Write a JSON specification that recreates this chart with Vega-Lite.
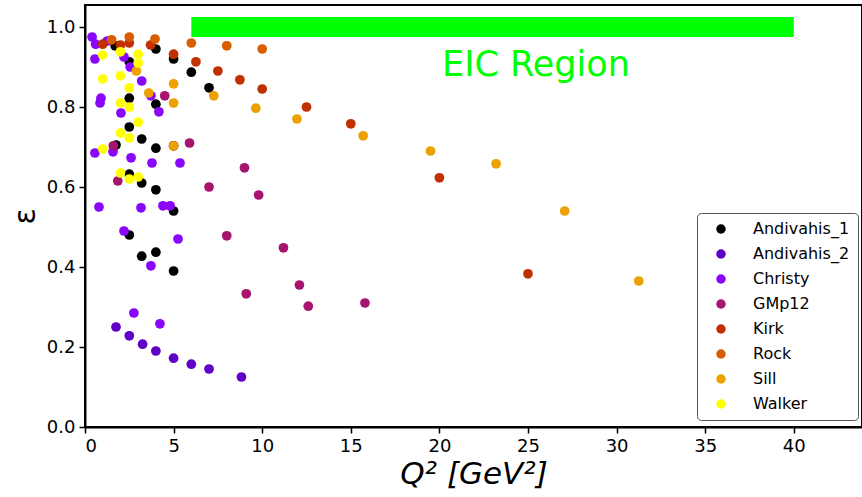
{
  "$schema": "https://vega.github.io/schema/vega-lite/v6.json",
  "width": 777,
  "height": 422,
  "autosize": {"type": "none"},
  "padding": {"left": 85, "top": 5, "right": 0, "bottom": 70},
  "background": "white",
  "config": {
    "font": "DejaVu Sans",
    "view": {"stroke": "black", "strokeWidth": 2},
    "axis": {"domainColor": "black", "domainWidth": 2, "tickColor": "black", "tickWidth": 1.5, "tickSize": 6, "labelFontSize": 18, "labelColor": "black", "grid": false, "titleColor": "black", "labelFont": "DejaVu Sans"}
  },
  "datasets": {
    "pts": [
      {"series": "Andivahis_1", "q2": 1.7, "eps": 0.953},
      {"series": "Andivahis_1", "q2": 2.5, "eps": 0.913},
      {"series": "Andivahis_1", "q2": 4.0, "eps": 0.945},
      {"series": "Andivahis_1", "q2": 5.0, "eps": 0.92},
      {"series": "Andivahis_1", "q2": 6.0, "eps": 0.887},
      {"series": "Andivahis_1", "q2": 7.0, "eps": 0.848},
      {"series": "Andivahis_1", "q2": 2.5, "eps": 0.822},
      {"series": "Andivahis_1", "q2": 4.0, "eps": 0.807},
      {"series": "Andivahis_1", "q2": 2.5, "eps": 0.75},
      {"series": "Andivahis_1", "q2": 3.2, "eps": 0.72},
      {"series": "Andivahis_1", "q2": 4.0, "eps": 0.697},
      {"series": "Andivahis_1", "q2": 1.75, "eps": 0.705},
      {"series": "Andivahis_1", "q2": 5.0, "eps": 0.703},
      {"series": "Andivahis_1", "q2": 2.5, "eps": 0.632},
      {"series": "Andivahis_1", "q2": 3.2, "eps": 0.61},
      {"series": "Andivahis_1", "q2": 4.0, "eps": 0.593},
      {"series": "Andivahis_1", "q2": 5.0, "eps": 0.54},
      {"series": "Andivahis_1", "q2": 2.5, "eps": 0.48},
      {"series": "Andivahis_1", "q2": 3.2, "eps": 0.427},
      {"series": "Andivahis_1", "q2": 4.0, "eps": 0.437},
      {"series": "Andivahis_1", "q2": 5.0, "eps": 0.39},
      {"series": "Andivahis_2", "q2": 1.75, "eps": 0.25},
      {"series": "Andivahis_2", "q2": 2.5, "eps": 0.228},
      {"series": "Andivahis_2", "q2": 3.25, "eps": 0.207},
      {"series": "Andivahis_2", "q2": 4.0, "eps": 0.19},
      {"series": "Andivahis_2", "q2": 5.0, "eps": 0.172},
      {"series": "Andivahis_2", "q2": 6.0, "eps": 0.157},
      {"series": "Andivahis_2", "q2": 7.0, "eps": 0.145},
      {"series": "Andivahis_2", "q2": 8.83, "eps": 0.125},
      {"series": "Christy", "q2": 0.4, "eps": 0.975},
      {"series": "Christy", "q2": 0.6, "eps": 0.957},
      {"series": "Christy", "q2": 1.25, "eps": 0.965},
      {"series": "Christy", "q2": 0.56, "eps": 0.92},
      {"series": "Christy", "q2": 2.2, "eps": 0.925},
      {"series": "Christy", "q2": 2.55, "eps": 0.9},
      {"series": "Christy", "q2": 3.2, "eps": 0.865},
      {"series": "Christy", "q2": 0.9, "eps": 0.822},
      {"series": "Christy", "q2": 0.85, "eps": 0.81},
      {"series": "Christy", "q2": 2.03, "eps": 0.785},
      {"series": "Christy", "q2": 3.72, "eps": 0.828},
      {"series": "Christy", "q2": 4.17, "eps": 0.788},
      {"series": "Christy", "q2": 0.56, "eps": 0.685},
      {"series": "Christy", "q2": 1.58, "eps": 0.688},
      {"series": "Christy", "q2": 2.6, "eps": 0.673},
      {"series": "Christy", "q2": 3.78, "eps": 0.66},
      {"series": "Christy", "q2": 5.36, "eps": 0.66},
      {"series": "Christy", "q2": 0.79, "eps": 0.55},
      {"series": "Christy", "q2": 3.16, "eps": 0.548},
      {"series": "Christy", "q2": 4.4, "eps": 0.553},
      {"series": "Christy", "q2": 4.8, "eps": 0.553},
      {"series": "Christy", "q2": 2.2, "eps": 0.49},
      {"series": "Christy", "q2": 5.25, "eps": 0.47},
      {"series": "Christy", "q2": 3.72, "eps": 0.403},
      {"series": "Christy", "q2": 2.76, "eps": 0.285},
      {"series": "Christy", "q2": 4.23, "eps": 0.258},
      {"series": "GMp12", "q2": 1.6, "eps": 0.703},
      {"series": "GMp12", "q2": 1.85, "eps": 0.615},
      {"series": "GMp12", "q2": 4.5, "eps": 0.828},
      {"series": "GMp12", "q2": 5.9, "eps": 0.71},
      {"series": "GMp12", "q2": 7.0, "eps": 0.6},
      {"series": "GMp12", "q2": 9.0, "eps": 0.648},
      {"series": "GMp12", "q2": 9.8, "eps": 0.58},
      {"series": "GMp12", "q2": 8.0, "eps": 0.478},
      {"series": "GMp12", "q2": 11.2, "eps": 0.448},
      {"series": "GMp12", "q2": 12.1, "eps": 0.355},
      {"series": "GMp12", "q2": 9.1, "eps": 0.333},
      {"series": "GMp12", "q2": 12.6, "eps": 0.302},
      {"series": "GMp12", "q2": 15.8, "eps": 0.31},
      {"series": "Kirk", "q2": 1.0, "eps": 0.957},
      {"series": "Kirk", "q2": 2.0, "eps": 0.955},
      {"series": "Kirk", "q2": 2.5, "eps": 0.96},
      {"series": "Kirk", "q2": 3.7, "eps": 0.955},
      {"series": "Kirk", "q2": 5.0, "eps": 0.932},
      {"series": "Kirk", "q2": 6.26, "eps": 0.913},
      {"series": "Kirk", "q2": 7.5, "eps": 0.89},
      {"series": "Kirk", "q2": 8.74, "eps": 0.868},
      {"series": "Kirk", "q2": 10.0, "eps": 0.845},
      {"series": "Kirk", "q2": 12.5, "eps": 0.8},
      {"series": "Kirk", "q2": 15.0, "eps": 0.758},
      {"series": "Kirk", "q2": 20.0, "eps": 0.623},
      {"series": "Kirk", "q2": 25.0, "eps": 0.383},
      {"series": "Rock", "q2": 1.5, "eps": 0.968},
      {"series": "Rock", "q2": 2.5, "eps": 0.975},
      {"series": "Rock", "q2": 3.95, "eps": 0.97},
      {"series": "Rock", "q2": 6.0, "eps": 0.96},
      {"series": "Rock", "q2": 8.0, "eps": 0.953},
      {"series": "Rock", "q2": 10.0, "eps": 0.945},
      {"series": "Sill", "q2": 2.9, "eps": 0.89},
      {"series": "Sill", "q2": 3.6, "eps": 0.835},
      {"series": "Sill", "q2": 5.0, "eps": 0.858},
      {"series": "Sill", "q2": 5.0, "eps": 0.81},
      {"series": "Sill", "q2": 5.0, "eps": 0.703},
      {"series": "Sill", "q2": 7.27, "eps": 0.828},
      {"series": "Sill", "q2": 9.64, "eps": 0.797},
      {"series": "Sill", "q2": 11.96, "eps": 0.77},
      {"series": "Sill", "q2": 15.7, "eps": 0.728},
      {"series": "Sill", "q2": 19.5, "eps": 0.69},
      {"series": "Sill", "q2": 23.2, "eps": 0.658},
      {"series": "Sill", "q2": 27.07, "eps": 0.54},
      {"series": "Sill", "q2": 31.25, "eps": 0.365},
      {"series": "Walker", "q2": 1.0, "eps": 0.93},
      {"series": "Walker", "q2": 2.0, "eps": 0.938},
      {"series": "Walker", "q2": 3.0, "eps": 0.932},
      {"series": "Walker", "q2": 3.0, "eps": 0.91},
      {"series": "Walker", "q2": 1.0, "eps": 0.87},
      {"series": "Walker", "q2": 2.0, "eps": 0.878},
      {"series": "Walker", "q2": 2.5, "eps": 0.848},
      {"series": "Walker", "q2": 2.0, "eps": 0.81},
      {"series": "Walker", "q2": 2.5, "eps": 0.8},
      {"series": "Walker", "q2": 3.0, "eps": 0.762},
      {"series": "Walker", "q2": 2.0, "eps": 0.735},
      {"series": "Walker", "q2": 2.5, "eps": 0.723},
      {"series": "Walker", "q2": 1.0, "eps": 0.695},
      {"series": "Walker", "q2": 2.0, "eps": 0.635},
      {"series": "Walker", "q2": 2.5, "eps": 0.62},
      {"series": "Walker", "q2": 3.0, "eps": 0.625}
    ]
  },
  "layer": [
    {
      "data": {"values": [{"x": 6, "x2": 40, "y": 0.975, "y2": 1.025}]},
      "mark": {"type": "rect", "color": "#00ff00"},
      "encoding": {
        "x": {"field": "x", "type": "quantitative"},
        "x2": {"field": "x2"},
        "y": {"field": "y", "type": "quantitative"},
        "y2": {"field": "y2"}
      }
    },
    {
      "data": {"values": [{"x": 25.45, "y": 0.905, "label": "EIC Region"}]},
      "mark": {"type": "text", "color": "#00ff00", "fontSize": 35, "font": "DejaVu Sans", "align": "center", "baseline": "middle"},
      "encoding": {
        "x": {"field": "x", "type": "quantitative"},
        "y": {"field": "y", "type": "quantitative"},
        "text": {"field": "label"}
      }
    },
    {
      "data": {"name": "pts"},
      "mark": {"type": "circle", "size": 95, "opacity": 1},
      "encoding": {
        "x": {"field": "q2", "type": "quantitative", "scale": {"domain": [0, 43.85], "nice": false, "zero": false},
          "axis": {"values": [0, 5, 10, 15, 20, 25, 30, 35, 40], "title": "Q² [GeV²]", "titleFontSize": 31, "titleFontStyle": "italic", "titleFontWeight": "normal", "titlePadding": 4, "labelPadding": 4}},
        "y": {"field": "eps", "type": "quantitative", "scale": {"domain": [0, 1.055], "nice": false},
          "axis": {"values": [0, 0.2, 0.4, 0.6, 0.8, 1.0], "format": ".1f", "title": "ε", "titleFontSize": 30, "titleFontWeight": "normal", "titlePadding": 6, "labelPadding": 4}},
        "color": {"field": "series", "type": "nominal",
          "scale": {"domain": ["Andivahis_1", "Andivahis_2", "Christy", "GMp12", "Kirk", "Rock", "Sill", "Walker"],
                    "range": ["#000000", "#6001c7", "#8806f9", "#a7146f", "#c13000", "#d75d00", "#eca100", "#ffff00"]},
          "legend": {"orient": "none", "legendX": 612, "legendY": 208, "title": null, "labelFontSize": 16, "labelColor": "black", "labelFont": "DejaVu Sans",
            "symbolType": "circle", "symbolSize": 90, "symbolStrokeWidth": 0, "rowPadding": 9, "labelOffset": 24, "symbolOffset": 8,
            "padding": 8, "strokeColor": "#555555", "fillColor": "white", "cornerRadius": 4, "labelLimit": 200}}
      }
    }
  ]
}
